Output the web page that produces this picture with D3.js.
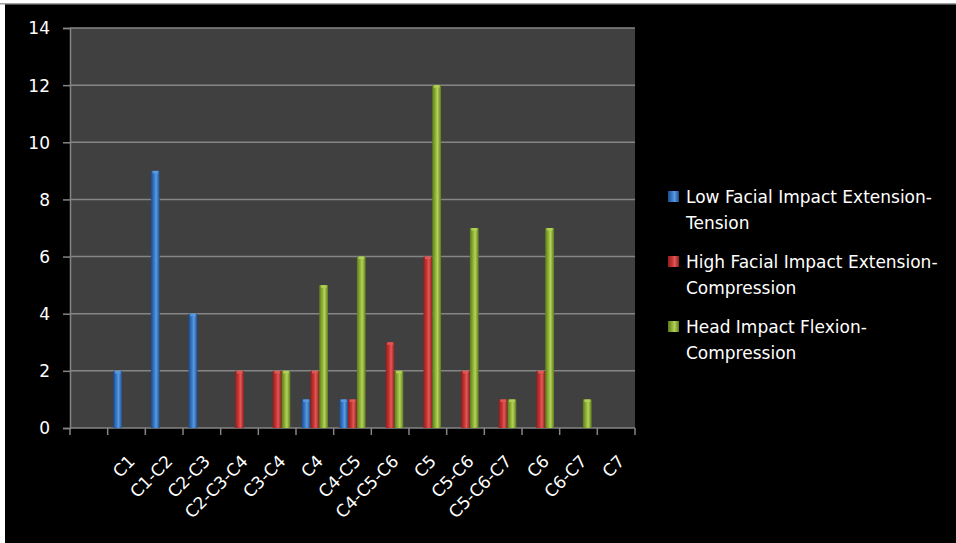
<!DOCTYPE html>
<html><head><meta charset="utf-8">
<script src="https://cdn.jsdelivr.net/npm/d3@7"></script>
<style>
html,body{margin:0;padding:0;background:#fff;}
svg{display:block;}
</style></head>
<body>
<script>
const categories = ["", "C1","C1-C2","C2-C3","C2-C3-C4","C3-C4","C4","C4-C5","C4-C5-C6","C5","C5-C6","C5-C6-C7","C6","C6-C7","C7"];
const lowFacial  = [0, 2, 9, 4, 0, 0, 1, 1, 0, 0, 0, 0, 0, 0, 0];
const highFacial = [0, 0, 0, 0, 2, 2, 2, 1, 3, 6, 2, 1, 2, 0, 0];
const headImpact = [0, 0, 0, 0, 0, 2, 5, 6, 2, 12, 7, 1, 7, 1, 0];
const seriesNames = [
  ["Low Facial Impact Extension-", "Tension"],
  ["High Facial Impact Extension-", "Compression"],
  ["Head Impact Flexion-", "Compression"]
];
const yTicks = [0,2,4,6,8,10,12,14];

const W = 956, H = 543;
const svg = d3.select("body").append("svg").attr("width", W).attr("height", H);
svg.append("rect").attr("x",0).attr("y",0).attr("width",W).attr("height",H).attr("fill","#fff");
svg.append("rect").attr("x",5).attr("y",3).attr("width",W-5).attr("height",H-3).attr("fill","#000");
svg.append("rect").attr("x",0).attr("y",3).attr("width",W).attr("height",1.5).attr("fill","#a0a0a0");

const defs = svg.append("defs");
const palettes = [
  {dark:"#1d4a86", mid:"#3a7fd0", light:"#5c9ae0"},
  {dark:"#8e1f1d", mid:"#cc3634", light:"#e05a58"},
  {dark:"#5d7a1c", mid:"#93b83a", light:"#b4d25a"}
];
palettes.forEach((p,i)=>{
  const g = defs.append("linearGradient").attr("id","g"+i).attr("x1","0").attr("x2","1").attr("y1","0").attr("y2","0");
  g.append("stop").attr("offset","0%").attr("stop-color",p.dark);
  g.append("stop").attr("offset","40%").attr("stop-color",p.mid);
  g.append("stop").attr("offset","60%").attr("stop-color",p.light);
  g.append("stop").attr("offset","100%").attr("stop-color",p.dark);
});

const pLeft = 70, pRight = 635, pTop = 28, pBottom = 428;
const x = d3.scaleBand().domain(categories.map((c,i)=>i)).range([pLeft,pRight]).paddingInner(0).paddingOuter(0);
const y = d3.scaleLinear().domain([0,14]).range([pBottom, pTop]);

svg.append("rect").attr("x",pLeft).attr("y",pTop).attr("width",pRight-pLeft).attr("height",pBottom-pTop).attr("fill","#404040");

// gridlines
svg.append("g").selectAll("line").data(yTicks.filter(t=>t>0)).join("line")
  .attr("x1",pLeft).attr("x2",pRight).attr("y1",d=>y(d)).attr("y2",d=>y(d))
  .attr("stroke","#858585").attr("stroke-width",1.5);

// y axis
const yAxis = svg.append("g").attr("transform",`translate(${pLeft},0)`)
  .call(d3.axisLeft(y).tickValues(yTicks).tickSize(7).tickPadding(13));
yAxis.select(".domain").attr("stroke","#858585").attr("stroke-width",1.5);
yAxis.selectAll(".tick line").attr("stroke","#858585").attr("stroke-width",1.5);
yAxis.selectAll(".tick text").attr("fill","#fff").attr("font-size","17px").attr("font-family","'DejaVu Sans', sans-serif").attr("dy","0.35em");

// x axis
const bw = x.bandwidth();
const xAxis = svg.append("g").attr("transform",`translate(0,${pBottom})`);
xAxis.append("line").attr("x1",pLeft).attr("x2",pRight).attr("y1",0).attr("y2",0).attr("stroke","#858585").attr("stroke-width",1.5);
const tickPos = d3.range(categories.length+1).map(i=> i<categories.length ? x(i) : x(categories.length-1)+bw);
xAxis.selectAll("line.t").data(tickPos).join("line").attr("class","t")
  .attr("x1",d=>d).attr("x2",d=>d).attr("y1",0).attr("y2",7).attr("stroke","#858585").attr("stroke-width",1.5);
xAxis.selectAll("text").data(categories).join("text")
  .attr("transform",(d,i)=>`translate(${x(i)+bw/2+1},${26}) rotate(-45)`)
  .attr("text-anchor","end").attr("dy","0.7em")
  .attr("fill","#fff").attr("font-size","17px").attr("font-family","'DejaVu Sans', sans-serif")
  .text(d=>d);

// bars
const barW = 8.8;
const allSeries = [lowFacial, highFacial, headImpact];
const sub = d3.scaleBand().domain([0,1,2]).range([-1.5*barW, 1.5*barW]);
allSeries.forEach((vals,si)=>{
  svg.append("g").selectAll("rect").data(vals.map((v,i)=>({v,i})).filter(d=>d.v>0)).join("rect")
    .attr("x",d=>x(d.i)+bw/2+sub(si))
    .attr("y",d=>y(d.v))
    .attr("width",barW)
    .attr("height",d=>y(0)-y(d.v))
    .attr("fill",`url(#g${si})`);
  svg.append("g").selectAll("rect").data(vals.map((v,i)=>({v,i})).filter(d=>d.v>0)).join("rect")
    .attr("x",d=>x(d.i)+bw/2+sub(si)+1.5)
    .attr("y",d=>y(d.v))
    .attr("width",barW-3)
    .attr("height",2.5)
    .attr("fill",palettes[si].light).attr("opacity",0.9);
});

// legend
const legY = [197, 262, 327];
const leg = svg.append("g");
seriesNames.forEach((lines,i)=>{
  leg.append("rect").attr("x",668).attr("y",legY[i]-6).attr("width",11).attr("height",11).attr("fill",`url(#g${i})`);
  lines.forEach((t,j)=>{
    leg.append("text").attr("x",686).attr("y",legY[i]+j*26).attr("dy","0.35em")
      .attr("fill","#fff").attr("font-size","17px").attr("font-family","'DejaVu Sans', sans-serif")
      .text(t);
  });
});
</script>
</body></html>
